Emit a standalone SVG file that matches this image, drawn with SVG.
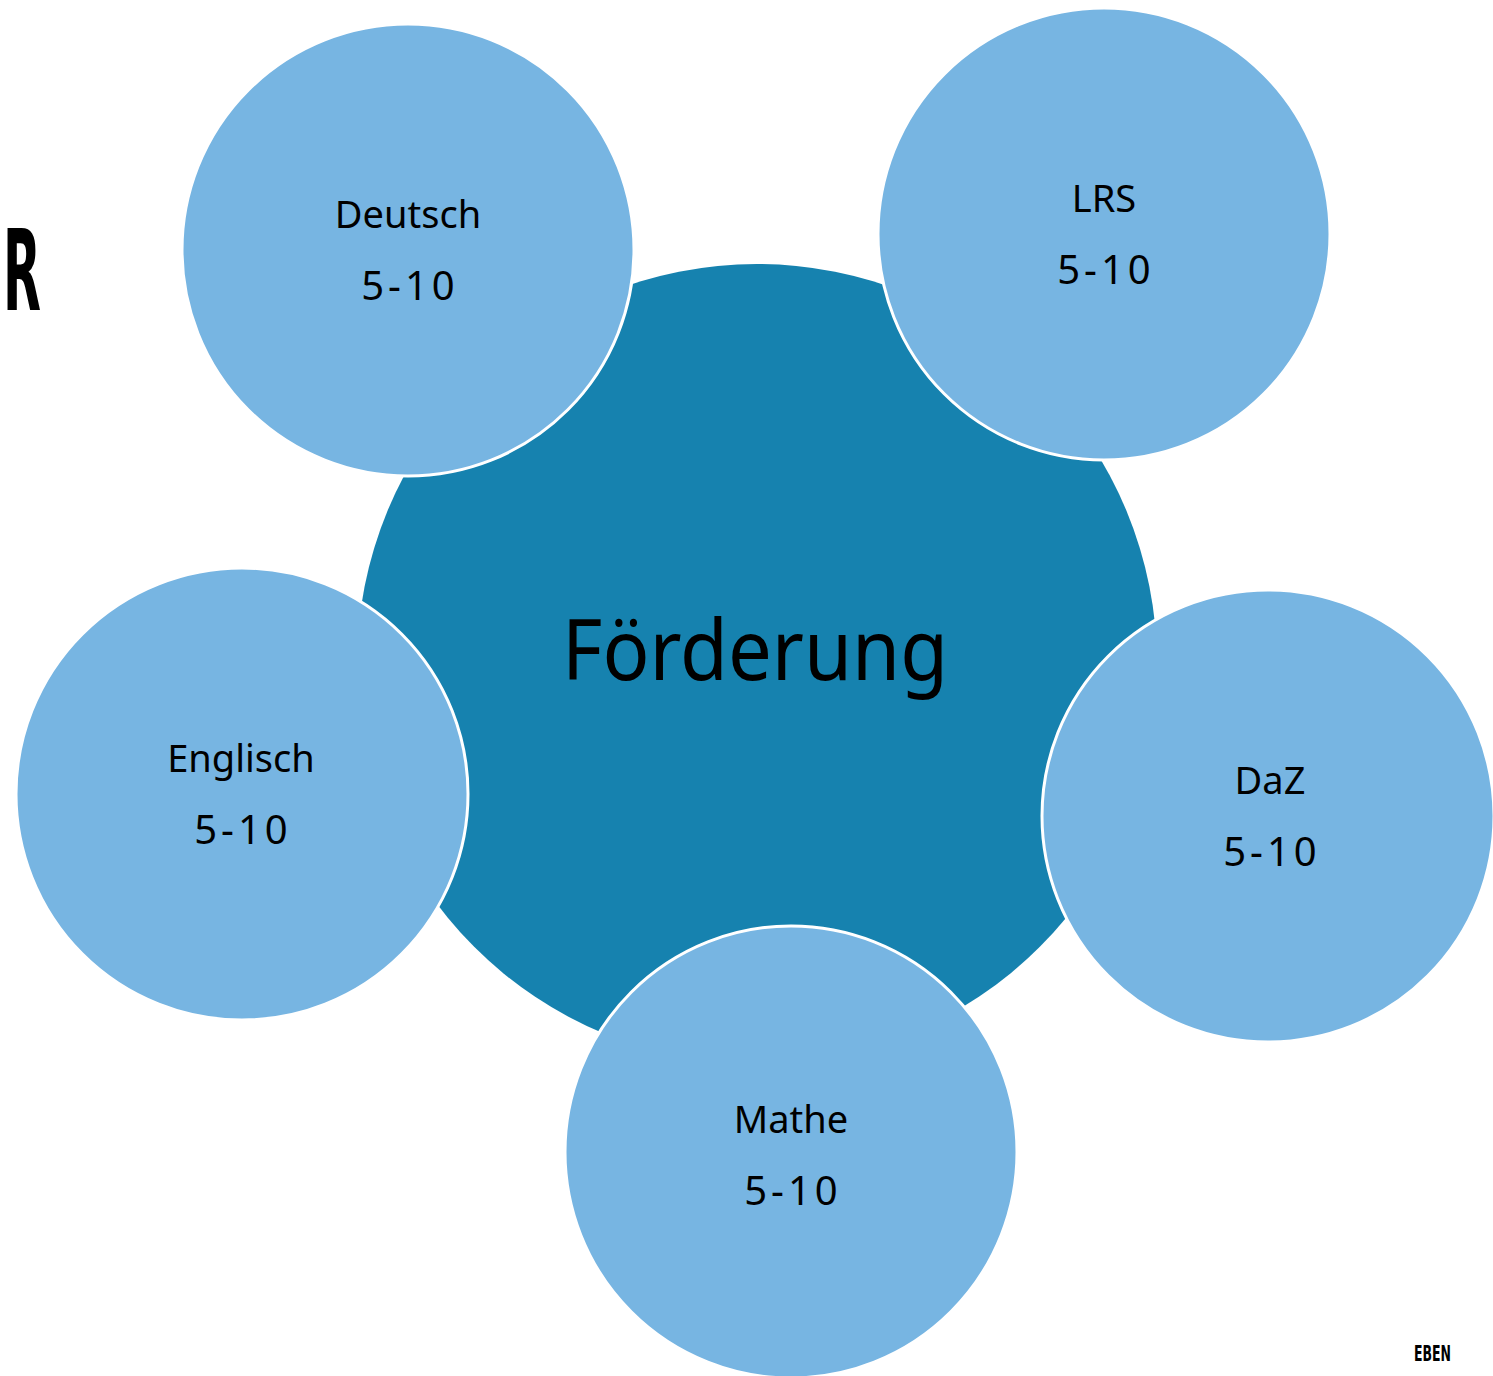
<svg xmlns="http://www.w3.org/2000/svg" width="1493" height="1376" viewBox="0 0 1493 1376">
<style>
.hub{fill:#1682AF}
.sat{fill:#77B5E2;stroke:#FFFFFF;stroke-width:3}
.lbl{font-family:"Noto Sans","Liberation Sans",sans-serif;font-size:38px;fill:#000;text-anchor:middle}
.num{font-family:"Noto Sans","Liberation Sans",sans-serif;font-size:40px;fill:#000;text-anchor:middle;letter-spacing:4px}
.big{font-family:"Noto Sans","Liberation Sans",sans-serif;font-size:84px;fill:#000;text-anchor:middle}
.cond{font-family:"DejaVu Sans","Liberation Sans",sans-serif;font-weight:bold;fill:#000}
</style>
<rect width="1493" height="1376" fill="#FFFFFF"/>
<text class="cond" x="3" y="310" font-size="112" textLength="38" lengthAdjust="spacingAndGlyphs">R</text>
<text class="cond" x="1414" y="1361" font-size="22" textLength="37" lengthAdjust="spacingAndGlyphs">EBEN</text>
<g id="connectors"></g>
<g id="hub">
<circle class="hub" cx="757" cy="664" r="400"/>
<text class="big" x="755" y="680" textLength="386" lengthAdjust="spacingAndGlyphs">Förderung</text>
</g>
<g id="deutsch">
<circle class="sat" cx="408" cy="250" r="226"/>
<text class="lbl" x="408" y="228">Deutsch</text>
<text class="num" x="410" y="300">5-10</text>
</g>
<g id="lrs">
<circle class="sat" cx="1104" cy="234" r="226"/>
<text class="lbl" x="1104" y="212">LRS</text>
<text class="num" x="1106" y="284">5-10</text>
</g>
<g id="englisch">
<circle class="sat" cx="242" cy="794" r="226"/>
<text class="lbl" x="241" y="772">Englisch</text>
<text class="num" x="243" y="844">5-10</text>
</g>
<g id="daz">
<circle class="sat" cx="1268" cy="816" r="226"/>
<text class="lbl" x="1270" y="794">DaZ</text>
<text class="num" x="1272" y="866">5-10</text>
</g>
<g id="mathe">
<circle class="sat" cx="791" cy="1152" r="226"/>
<text class="lbl" x="791" y="1133">Mathe</text>
<text class="num" x="793" y="1205">5-10</text>
</g>
</svg>
